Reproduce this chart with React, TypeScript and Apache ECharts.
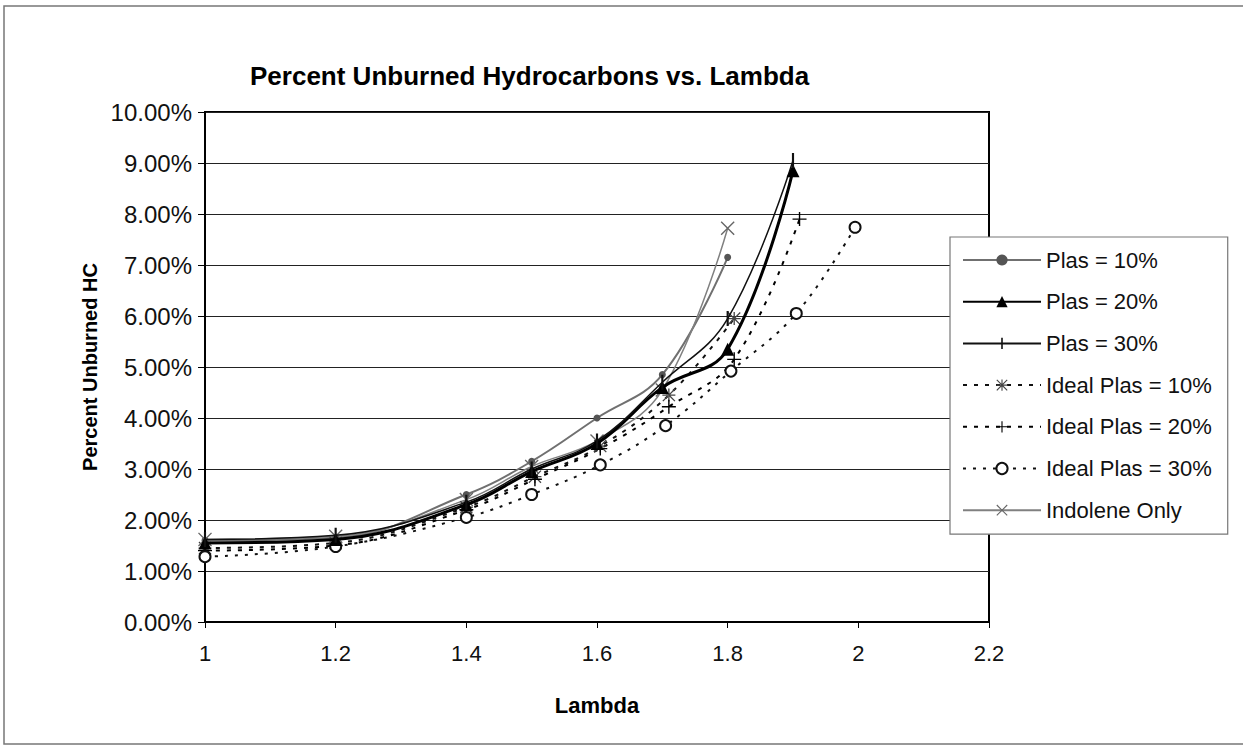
import React, { useEffect, useRef } from "react";
import * as echarts from "echarts";

const titleText = "Percent Unburned Hydrocarbons vs. Lambda";
const xAxisName = "Lambda";
const yAxisName = "Percent Unburned HC";

const lambda = [1, 1.2, 1.4, 1.5, 1.6, 1.7, 1.8, 1.9, 2.0];
const idealLambda = [1, 1.2, 1.4, 1.505, 1.605, 1.71, 1.81, 1.91];
const ideal30Lambda = [1, 1.2, 1.4, 1.5, 1.605, 1.705, 1.805, 1.905, 1.995];

const plas10 = [1.6, 1.65, 2.5, 3.15, 4.0, 4.85, 7.15];
const plas20 = [1.55, 1.62, 2.3, 2.95, 3.5, 4.6, 5.35, 8.85];
const plas30 = [1.62, 1.7, 2.35, 3.0, 3.55, 4.7, 5.95, 9.05];
const ideal10 = [1.45, 1.55, 2.25, 2.85, 3.45, 4.45, 5.95];
const ideal20 = [1.4, 1.5, 2.2, 2.8, 3.4, 4.22, 5.15, 7.9];
const ideal30 = [1.28, 1.48, 2.05, 2.5, 3.08, 3.85, 4.92, 6.05, 7.74];
const indolene = [1.62, 1.68, 2.4, 3.05, 3.55, 4.55, 7.72];

const seriesNames = [
  "Plas = 10%",
  "Plas = 20%",
  "Plas = 30%",
  "Ideal Plas = 10%",
  "Ideal Plas = 20%",
  "Ideal Plas = 30%",
  "Indolene Only",
];

const FONT = "'Liberation Sans', Arial, sans-serif";

const PLUS = "path://M9,0h2v9h9v2h-9v9h-2v-9h-9v-2h9z";
const XMARK =
  "path://M0,1.4L1.4,0L10,8.6L18.6,0L20,1.4L11.4,10L20,18.6L18.6,20L10,11.4L1.4,20L0,18.6L8.6,10Z";
const ASTER =
  "path://M0,1.4L1.4,0L10,8.6L18.6,0L20,1.4L11.4,10L20,18.6L18.6,20L10,11.4L1.4,20L0,18.6L8.6,10Z M9,0h2v9h9v2h-9v9h-2v-9h-9v-2h9z";
const VBAR = "path://M0,0L0.01,0L0,0.01Z M13.99,14L14,14L14,13.99Z M6,0h2v14h-2z";

function pairs(xs: number[], ys: number[]) {
  return ys.map((y, i) => [xs[i], y]);
}

export default function App() {
  const ref = useRef<HTMLDivElement>(null);
  useEffect(() => {
    if (!ref.current) return;
    const chart = echarts.init(ref.current, undefined, { renderer: "svg" });
    const option: any = {
      animation: false,
      backgroundColor: "#ffffff",
      textStyle: { fontFamily: FONT },
      title: {
        text: titleText,
        left: 245,
        top: 58,
        textStyle: { fontFamily: FONT, fontSize: 26, fontWeight: "bold", color: "#000" },
      },
      graphic: [
        {
          type: "rect",
          shape: { x: 4, y: 6, width: 1260, height: 738 },
          style: { fill: "none", stroke: "#777", lineWidth: 1.5 },
          silent: true,
          z: -1,
        },
      ],
      legend: {
        orient: "vertical",
        left: 950,
        top: 237,
        padding: [11, 16, 12, 12],
        itemWidth: 78,
        itemHeight: 14,
        itemGap: 17.7,
        backgroundColor: "#fff",
        borderColor: "#777",
        borderWidth: 1.2,
        borderRadius: 0,
        data: seriesNames,
        textStyle: { fontFamily: FONT, fontSize: 22, color: "#111", lineHeight: 24 },
      },
      grid: {
        left: 205,
        top: 112,
        right: 254,
        bottom: 124,
        show: true,
        borderColor: "#000",
        borderWidth: 2,
        backgroundColor: "transparent",
      },
      xAxis: {
        type: "value",
        min: 1,
        max: 2.2,
        interval: 0.2,
        name: xAxisName,
        nameLocation: "middle",
        nameGap: 72,
        nameTextStyle: { fontFamily: FONT, fontSize: 22, fontWeight: "bold", color: "#000" },
        axisLine: { show: true, lineStyle: { color: "#000", width: 2 } },
        axisTick: { show: true, length: 6, lineStyle: { color: "#000" } },
        splitLine: { show: false },
        axisLabel: {
          margin: 20,
          fontFamily: FONT,
          fontSize: 22,
          color: "#111",
          formatter: (v: number) => String(Math.round(v * 10) / 10),
        },
      },
      yAxis: {
        type: "value",
        min: 0,
        max: 10,
        interval: 1,
        name: yAxisName,
        nameLocation: "middle",
        nameGap: 102,
        nameRotate: 90,
        nameTextStyle: { fontFamily: FONT, fontSize: 20, fontWeight: "bold", color: "#000" },
        axisLine: { show: true, lineStyle: { color: "#000", width: 2 } },
        axisTick: { show: true, length: 7, lineStyle: { color: "#000" } },
        splitLine: { show: true, lineStyle: { color: "#222", width: 1.2 } },
        axisLabel: {
          margin: 13,
          fontFamily: FONT,
          fontSize: 24,
          color: "#111",
          formatter: (v: number) => v.toFixed(2) + "%",
        },
      },
      series: [
        {
          name: seriesNames[0],
          type: "line",
          smooth: 0.4,
          data: pairs(lambda, plas10),
          symbol: "circle",
          symbolSize: 7,
          lineStyle: { color: "#707070", width: 2 },
          itemStyle: { color: "#555" },
          z: 3,
        },
        {
          name: seriesNames[1],
          type: "line",
          smooth: 0.4,
          data: pairs(lambda, plas20),
          symbol: "triangle",
          symbolSize: 13,
          lineStyle: { color: "#000", width: 3 },
          itemStyle: { color: "#000" },
          z: 4,
        },
        {
          name: seriesNames[2],
          type: "line",
          smooth: 0.4,
          data: pairs(lambda, plas30),
          symbol: VBAR,
          symbolSize: 15,
          lineStyle: { color: "#111", width: 1.5 },
          itemStyle: { color: "#111" },
          z: 4,
        },
        {
          name: seriesNames[3],
          type: "line",
          smooth: 0.4,
          data: pairs(idealLambda, ideal10),
          symbol: ASTER,
          symbolSize: 13,
          lineStyle: { color: "#111", width: 2, type: [4, 7] },
          itemStyle: { color: "#444" },
          z: 3,
        },
        {
          name: seriesNames[4],
          type: "line",
          smooth: 0.4,
          data: pairs(idealLambda, ideal20),
          symbol: PLUS,
          symbolSize: 14,
          lineStyle: { color: "#000", width: 2, type: [4, 7] },
          itemStyle: { color: "#000" },
          z: 3,
        },
        {
          name: seriesNames[5],
          type: "line",
          smooth: 0.4,
          data: pairs(ideal30Lambda, ideal30),
          symbol: "emptyCircle",
          symbolSize: 11,
          lineStyle: { color: "#111", width: 2, type: [3, 7] },
          itemStyle: { color: "#111", borderWidth: 1.3 },
          z: 3,
        },
        {
          name: seriesNames[6],
          type: "line",
          smooth: 0.4,
          data: pairs(lambda, indolene),
          symbol: XMARK,
          symbolSize: 14,
          lineStyle: { color: "#808080", width: 1.5 },
          itemStyle: { color: "#666" },
          z: 3,
        },
      ],
    };
    chart.setOption(option);
    return () => chart.dispose();
  }, []);
  return (
    <div
      ref={ref}
      style={{ position: "fixed", left: 0, top: 0, width: 1243, height: 746, background: "#fff" }}
    />
  );
}
